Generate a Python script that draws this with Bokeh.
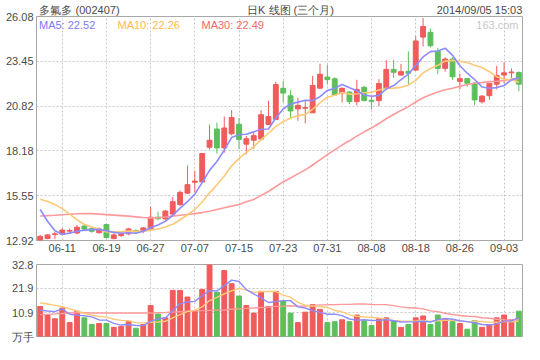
from bokeh.plotting import figure
from bokeh.models import Range1d, FixedTicker, Label, ColumnDataSource, LinearAxis
from bokeh.layouts import column
from bokeh.embed import file_html
from bokeh.resources import INLINE

# ---------------- data ----------------
dates = ["06-06", "06-09", "06-10", "06-11", "06-12", "06-13", "06-16", "06-17", "06-18", "06-19",
         "06-20", "06-23", "06-24", "06-25", "06-26", "06-27", "06-30", "07-01", "07-02", "07-03",
         "07-04", "07-07", "07-08", "07-09", "07-10", "07-11", "07-14", "07-15", "07-16", "07-17",
         "07-18", "07-21", "07-22", "07-23", "07-24", "07-25", "07-28", "07-29", "07-30", "07-31",
         "08-01", "08-04", "08-05", "08-06", "08-07", "08-08", "08-11", "08-12", "08-13", "08-14",
         "08-15", "08-18", "08-19", "08-20", "08-21", "08-22", "08-25", "08-26", "08-27", "08-28",
         "08-29", "09-01", "09-02", "09-03", "09-04", "09-05"]
x_tick_labels = ["06-11", "06-19", "06-27", "07-07", "07-15", "07-23", "07-31", "08-08", "08-18", "08-26", "09-03"]

opens = [12.94, 13.03, 13.27, 13.29, 13.47, 13.36, 13.77, 13.62, 13.38, 13.86,
         13.03, 13.21, 13.31, 13.51, 13.46, 13.59, 14.29, 14.19, 14.47, 15.03,
         15.70, 16.34, 16.36, 18.40, 19.47, 18.36, 19.19, 19.75, 18.58, 18.81,
         18.88, 19.73, 20.03, 21.86, 21.42, 20.65, 20.69, 20.42, 21.87, 22.52,
         22.42, 21.60, 21.64, 21.08, 21.92, 21.16, 21.14, 21.86, 22.97, 22.64,
         22.86, 22.93, 24.87, 25.15, 24.04, 23.03, 23.58, 22.27, 22.43, 22.16,
         21.07, 21.43, 22.10, 22.64, 22.77, 22.79]
highs = [13.25, 13.28, 13.42, 13.64, 13.62, 13.83, 13.88, 13.71, 13.68, 13.88,
         13.34, 13.44, 13.66, 13.57, 13.71, 14.92, 14.62, 14.72, 15.47, 15.86,
         17.32, 17.01, 18.03, 19.73, 19.84, 20.21, 20.58, 20.12, 19.05, 19.29,
         20.58, 21.14, 22.24, 22.30, 21.75, 21.30, 21.13, 22.59, 23.30, 23.26,
         22.51, 21.92, 21.69, 22.36, 22.00, 21.36, 22.40, 23.51, 23.53, 23.30,
         24.03, 24.93, 25.99, 25.37, 24.23, 23.68, 23.68, 22.73, 22.47, 22.21,
         21.47, 22.16, 23.18, 23.40, 23.03, 22.86]
lows = [12.92, 13.00, 13.00, 13.25, 13.36, 13.29, 13.55, 13.38, 13.33, 13.05,
        12.99, 13.13, 13.23, 13.31, 13.35, 13.55, 14.10, 14.12, 14.42, 14.94,
        15.66, 15.75, 16.33, 18.27, 18.03, 18.08, 19.10, 18.27, 17.98, 18.31,
        18.81, 19.70, 20.00, 21.03, 20.05, 19.95, 19.81, 20.42, 21.82, 22.09,
        21.42, 21.03, 20.92, 20.86, 21.10, 20.60, 20.81, 21.84, 22.47, 22.60,
        22.10, 22.88, 24.32, 24.26, 22.69, 22.84, 22.36, 21.79, 21.95, 20.86,
        20.97, 21.18, 21.79, 22.16, 22.47, 21.69]
closes = [13.16, 13.25, 13.31, 13.53, 13.51, 13.70, 13.59, 13.46, 13.60, 13.09,
          13.25, 13.35, 13.60, 13.43, 13.66, 14.29, 14.20, 14.65, 15.20, 15.75,
          16.20, 16.41, 18.03, 18.81, 18.36, 19.53, 20.14, 18.86, 18.90, 19.08,
          20.31, 20.20, 22.08, 21.58, 20.53, 20.86, 20.73, 22.03, 22.69, 22.37,
          21.47, 21.86, 21.08, 21.80, 21.14, 21.08, 22.14, 22.97, 22.80, 22.84,
          22.75, 24.64, 25.49, 24.36, 23.03, 23.58, 22.54, 22.43, 22.16, 21.18,
          21.40, 22.16, 22.62, 22.77, 22.82, 22.10]
volumes = [13.67, 9.78, 8.06, 12.95, 6.33, 11.51, 8.49, 5.47, 5.90, 5.90,
           4.17, 4.60, 6.76, 3.74, 5.47, 14.10, 10.22, 8.49, 21.00, 21.00,
           17.98, 11.51, 21.44, 32.66, 20.14, 30.07, 24.03, 18.42, 14.10, 10.65,
           20.57, 13.67, 20.57, 16.26, 10.65, 6.33, 11.08, 14.53, 12.37, 6.33,
           6.76, 7.63, 6.76, 9.78, 7.19, 5.04, 8.06, 8.49, 7.19, 4.17,
           5.47, 8.49, 9.35, 5.47, 9.78, 8.06, 6.76, 5.90, 3.31, 7.19,
           4.17, 5.47, 8.49, 9.78, 7.63, 11.51]

# moving-average values at the start of the window (they depend on earlier days)
ma5_head = [14.74, 14.05, 13.49, 13.29]
ma10_head = [15.35, 15.21, 15.03, 14.79, 14.47, 14.14, 13.86, 13.71, 13.59]
ma30_head = [14.36, 14.38, 14.40, 14.43, 14.46, 14.49, 14.51, 14.50, 14.47, 14.44,
             14.41, 14.38, 14.35, 14.31, 14.27, 14.25, 14.26, 14.30, 14.35, 14.40,
             14.45, 14.50, 14.56, 14.64, 14.74, 14.84, 14.94, 15.04, 15.20]
vma5_head = [12.0, 11.6, 11.3, 12.6]
vma10_head = [15.4, 14.8, 14.2, 13.6, 12.6, 11.6, 10.6, 9.7, 9.1]
vma30_head = [9.9, 10.1, 10.3, 10.5, 10.7, 10.8, 10.8, 10.7, 10.7, 10.7,
              10.7, 10.7, 10.7, 10.7, 10.7, 10.7, 10.8, 10.9, 11.1, 11.3,
              11.5, 11.7, 11.8, 11.9, 12.0, 12.1, 12.4, 12.6, 12.8]

ma_label_values = ["22.52", "22.26", "22.49"]
price_min, price_max = 12.92, 26.08
price_tick_labels = ["12.92", "15.55", "18.18", "20.82", "23.45", "26.08"]
vol_max = 32.8
vol_tick_labels = ["万手", "10.9", "21.9", "32.8"]

header_texts = ["多氟多 (002407)", "日K 线图 (三个月)", "2014/09/05 15:03"]
watermark = "163.com"


def moving_avg(vals, n, head):
    out = list(head)
    for i in range(len(head), len(vals)):
        out.append(sum(vals[i - n + 1:i + 1]) / n)
    return out


ma5 = moving_avg(closes, 5, ma5_head)
ma10 = moving_avg(closes, 10, ma10_head)
ma30 = moving_avg(closes, 30, ma30_head)
vma5 = moving_avg(volumes, 5, vma5_head)
vma10 = moving_avg(volumes, 10, vma10_head)
vma30 = moving_avg(volumes, 30, vma30_head)

# ---------------- styling ----------------
RED = "#f05b5b"
GREEN = "#5cbf5c"
C5 = "#8c8cff"
C10 = "#ffc978"
C30 = "#ff9a9a"
GRID = "#c8c8c8"
BORDER = "#a8a8a8"
TXT = "#4a4a4a"
FONT = "Liberation Sans"

n = len(closes)
xs = list(range(n))
colors = [RED if c >= o else GREEN for o, c in zip(opens, closes)]
src = ColumnDataSource(dict(
    x=xs, open=opens, close=closes, high=highs, low=lows,
    top=[max(o, c) for o, c in zip(opens, closes)],
    bottom=[min(o, c) for o, c in zip(opens, closes)],
    vol=volumes, color=colors,
    ma5=ma5, ma10=ma10, ma30=ma30, vma5=vma5, vma10=vma10, vma30=vma30,
))

x_ticks = [dates.index(d) for d in x_tick_labels]
k = len(price_tick_labels) - 1
price_ticks = [round(price_min + j * (price_max - price_min) / k, 3) for j in range(k + 1)]
kv = len(vol_tick_labels) - 1
vol_ticks = [round(j * vol_max / kv, 3) for j in range(kv + 1)]

W = 524
H1, H2 = 258, 86
BL, BR = 36, 2
FW = W - BL - BR
FH_EST = H1 - 15 - 18


def px_to_x(px):
    # canvas pixel -> data x (for placing header texts)
    return round(-0.5 + (px - BL) / FW * n, 3)


def style(fig):
    fig.outline_line_color = BORDER
    fig.outline_line_width = 1
    fig.background_fill_color = "white"
    fig.border_fill_color = "white"
    for ax in fig.axis:
        ax.axis_line_color = None
        ax.major_tick_line_color = None
        ax.minor_tick_line_color = None
        ax.major_tick_out = 0
        ax.major_tick_in = 0
        ax.major_label_text_font = FONT
        ax.major_label_text_font_size = "11px"
        ax.major_label_text_color = TXT
    fig.xgrid.ticker = FixedTicker(ticks=x_ticks)
    for g in (fig.xgrid, fig.ygrid):
        g.grid_line_color = GRID
        g.grid_line_dash = "2 2"
        g.grid_line_width = 1


x_range = Range1d(-0.5, n - 0.5)

p = figure(width=W, height=H1, output_backend="svg", toolbar_location=None,
           x_range=x_range, y_range=Range1d(price_min, price_max),
           min_border_left=BL, min_border_right=BR, min_border_top=0, min_border_bottom=18)
p.xaxis.ticker = FixedTicker(ticks=x_ticks)
p.xaxis.major_label_overrides = {t: lab for t, lab in zip(x_ticks, x_tick_labels)}
p.xaxis.major_label_standoff = 3
p.yaxis.ticker = FixedTicker(ticks=price_ticks)
p.yaxis.major_label_overrides = {t: lab for t, lab in zip(price_ticks, price_tick_labels)}
p.yaxis.major_label_standoff = 3

# header line: three texts placed above the frame
hdr_px = [BL + 3 + 40, BL + FW / 2 + 11, BL + FW - 43]
hdr_ticks = [px_to_x(v) for v in hdr_px]
hdr_axis = LinearAxis(ticker=FixedTicker(ticks=hdr_ticks),
                      major_label_overrides={t: s for t, s in zip(hdr_ticks, header_texts)},
                      major_label_standoff=1)
p.add_layout(hdr_axis, "above")
style(p)
p.ygrid.ticker = FixedTicker(ticks=price_ticks[1:-1])

p.segment(x0="x", y0="low", x1="x", y1="high", color="color", line_width=1, source=src)
p.vbar(x="x", width=0.66, top="top", bottom="bottom", fill_color="color", line_color="color",
       line_width=1, source=src)
p.line("x", "ma30", source=src, line_color=C30, line_width=1.6)
p.line("x", "ma10", source=src, line_color=C10, line_width=1.6)
p.line("x", "ma5", source=src, line_color=C5, line_width=1.6)

label_y = price_max - 8.5 * (price_max - price_min) / FH_EST
for name, val, xx, col in [("MA5", ma_label_values[0], 2.5, "#7a7af5"),
                           ("MA10", ma_label_values[1], 81, "#ffb850"),
                           ("MA30", ma_label_values[2], 165, "#f06868")]:
    p.add_layout(Label(x=xx, y=label_y, x_units="screen", y_units="data", text=f"{name}: {val}",
                       text_font=FONT, text_font_size="11px", text_color=col,
                       text_align="left", text_baseline="middle"))
p.add_layout(Label(x=FW - 4, y=label_y, x_units="screen", y_units="data", text=watermark,
                   text_font=FONT, text_font_size="11px", text_color="#c8c8c8",
                   text_align="right", text_baseline="middle"))

p2 = figure(width=W, height=H2, output_backend="svg", toolbar_location=None,
            x_range=x_range, y_range=Range1d(0, vol_max),
            min_border_left=BL, min_border_right=BR, min_border_top=6, min_border_bottom=8)
p2.xaxis.visible = False
p2.yaxis.ticker = FixedTicker(ticks=vol_ticks)
p2.yaxis.major_label_overrides = {t: lab for t, lab in zip(vol_ticks, vol_tick_labels)}
p2.yaxis.major_label_standoff = 3
style(p2)
p2.ygrid.ticker = FixedTicker(ticks=vol_ticks[1:-1])

p2.vbar(x="x", width=0.66, top="vol", bottom=0, fill_color="color", line_color="color",
        line_width=1, source=src)
p2.line("x", "vma30", source=src, line_color=C30, line_width=1.4)
p2.line("x", "vma10", source=src, line_color=C10, line_width=1.4)
p2.line("x", "vma5", source=src, line_color=C5, line_width=1.4)

layout = column(p, p2, spacing=0)
open("out.html", "w").write(file_html(layout, INLINE))
